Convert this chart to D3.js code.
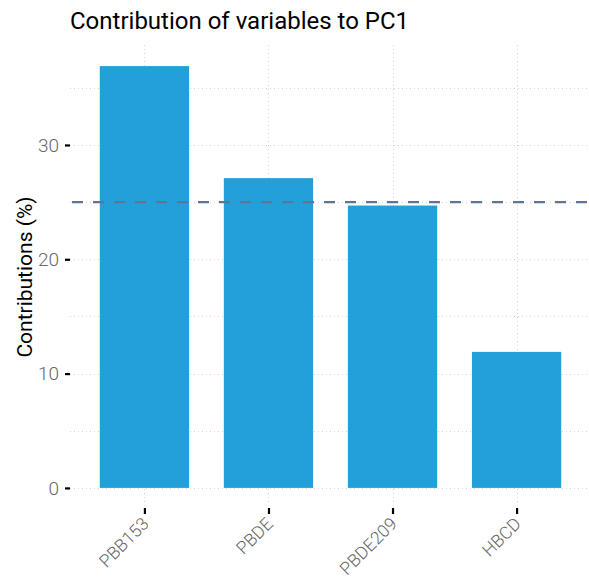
<!DOCTYPE html>
<html>
<head>
<meta charset="utf-8">
<script src="https://cdn.jsdelivr.net/npm/d3@7"></script>
<style>
  html, body { margin: 0; padding: 0; background: #fff; }
  svg { display: block; font-family: Roboto, "Noto Sans", sans-serif; }
</style>
</head>
<body>
<svg id="chart" width="589" height="586"></svg>
<script>
// Contribution of each variable to the first principal component (%)
const variables = ["PBB153", "PBDE", "PBDE209", "HBCD"];
const contributions = [36.9, 27.1, 24.7, 11.9];
const expectedLevel = 25; // 100 / number of variables
const yTicks = [0, 10, 20, 30];
const yMinorTicks = [5, 15, 25, 35];
const titleText = "Contribution of variables to PC1";
const yLabel = "Contributions (%)";

const svg = d3.select("#chart");
const panel = { left: 70, right: 591, top: 45, bottom: 509 };

// discrete x axis with ggplot-style 0.6 padding on each side
const x = d3.scaleLinear()
  .domain([0.4, variables.length + 0.6])
  .range([panel.left, panel.right]);
const barWidth = 0.72;

const yMax = d3.max(contributions);
const pad = yMax * 0.05;
const y = d3.scaleLinear()
  .domain([-pad, yMax + pad])
  .range([panel.bottom, panel.top]);

const grid = svg.append("g").attr("stroke", "#d6d6d6").attr("stroke-width", 1)
  .attr("stroke-dasharray", "1,3");

// horizontal grid (major + minor)
grid.selectAll("line.h")
  .data(yTicks.concat(yMinorTicks))
  .join("line")
  .attr("x1", panel.left).attr("x2", panel.right)
  .attr("y1", d => Math.round(y(d)) + 0.5).attr("y2", d => Math.round(y(d)) + 0.5);

// vertical grid at category positions
grid.selectAll("line.v")
  .data(variables)
  .join("line")
  .attr("x1", (d, i) => Math.round(x(i + 1)) + 0.5)
  .attr("x2", (d, i) => Math.round(x(i + 1)) + 0.5)
  .attr("y1", panel.top).attr("y2", panel.bottom);

// bars
svg.append("g").selectAll("rect")
  .data(contributions)
  .join("rect")
  .attr("x", (d, i) => x(i + 1 - barWidth / 2))
  .attr("width", x(1 + barWidth / 2) - x(1 - barWidth / 2))
  .attr("y", d => y(d))
  .attr("height", d => y(0) - y(d))
  .attr("fill", "#23a0d9");

// expected average contribution
svg.append("line")
  .attr("x1", panel.left).attr("x2", panel.right)
  .attr("y1", y(expectedLevel)).attr("y2", y(expectedLevel))
  .attr("stroke", "#5f7595").attr("stroke-width", 2.2)
  .attr("stroke-dasharray", "11,10")
  .attr("stroke-dashoffset", -2);

// y axis
const yAxis = d3.axisLeft(y).tickValues(yTicks).tickSize(5).tickPadding(6).tickFormat(d3.format("d"));
const gy = svg.append("g").attr("transform", `translate(${panel.left},0)`).call(yAxis);
gy.select(".domain").remove();
gy.selectAll(".tick line").attr("stroke", "#000").attr("stroke-width", 2.2);
gy.selectAll(".tick text").attr("fill", "#666").style("font-size", "19px")
  .style("font-weight", 300)
  .style("font-family", "Roboto, sans-serif");

// x axis
const xAxis = d3.axisBottom(x).tickValues(d3.range(1, variables.length + 1))
  .tickSize(6).tickFormat(d => variables[d - 1]);
const gx = svg.append("g").attr("transform", `translate(0,${panel.bottom - 1})`).call(xAxis);
gx.select(".domain").remove();
gx.selectAll(".tick line").attr("stroke", "#000").attr("stroke-width", 2.2);
gx.selectAll(".tick text")
  .attr("fill", "#666")
  .style("font-size", "17.5px")
  .style("font-weight", 300)
  .style("font-family", "Roboto, sans-serif")
  .attr("text-anchor", "end")
  .attr("dy", null)
  .attr("y", 0)
  .attr("transform", "translate(5,17) rotate(-45)");

// title
svg.append("text")
  .attr("x", panel.left).attr("y", 29)
  .attr("fill", "#000")
  .style("font-size", "24px")
  .text(titleText);

// y label
svg.append("text")
  .attr("transform", `translate(32,${(panel.top + panel.bottom) / 2}) rotate(-90)`)
  .attr("text-anchor", "middle")
  .attr("fill", "#000")
  .style("font-size", "21px")
  .text(yLabel);
</script>
</body>
</html>
